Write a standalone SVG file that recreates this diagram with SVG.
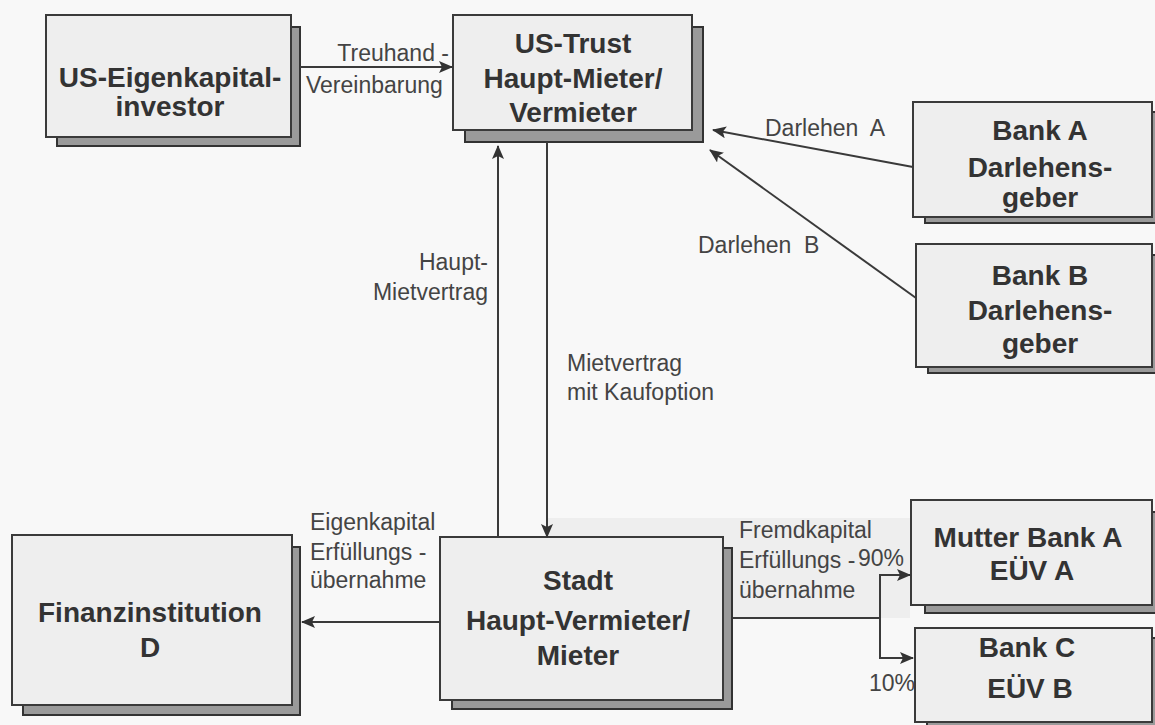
<svg xmlns="http://www.w3.org/2000/svg" width="1155" height="725" viewBox="0 0 1155 725">
<defs>
<marker id="arr" viewBox="0 0 14 12" markerWidth="14" markerHeight="12" refX="13" refY="6" orient="auto" markerUnits="userSpaceOnUse">
<path d="M0,0 L14,6 L0,12 L3,6 Z" fill="#333"/>
</marker>
<style>
.shadow{fill:#9a9a9a;stroke:#333;stroke-width:2}
.box{fill:#eeeeee;stroke:#3a3a3a;stroke-width:2}
.nt{font-family:"Liberation Sans",Arial,sans-serif;font-weight:bold;font-size:28px;fill:#333;text-anchor:middle}
.lb{font-family:"Liberation Sans",Arial,sans-serif;font-size:23px;fill:#444}
.ln{fill:none;stroke:#3a3a3a;stroke-width:2}
</style>
</defs>
<rect width="1155" height="725" fill="#f8f8f8"/>
<rect x="547" y="518" width="363" height="100" fill="#eeeeee"/>

<g id="investor">
<rect class="shadow" x="57" y="27" width="243" height="119"/>
<rect class="box" x="46" y="15" width="245" height="122"/>
<text class="nt" x="170" y="87">US-Eigenkapital-</text>
<text class="nt" x="170" y="116">investor</text>
</g>

<g id="trust">
<rect class="shadow" x="465" y="27" width="238" height="115"/>
<rect class="box" x="453" y="15" width="239" height="115"/>
<text class="nt" x="573" y="53">US-Trust</text>
<text class="nt" x="573" y="88">Haupt-Mieter/</text>
<text class="nt" x="573" y="122">Vermieter</text>
</g>

<g id="bankA">
<rect class="shadow" x="925" y="112" width="240" height="111"/>
<rect class="box" x="913" y="102" width="239" height="115"/>
<text class="nt" x="1040" y="140">Bank A</text>
<text class="nt" x="1040" y="177">Darlehens-</text>
<text class="nt" x="1040" y="207">geber</text>
</g>

<g id="bankB">
<rect class="shadow" x="928" y="255" width="240" height="118"/>
<rect class="box" x="916" y="244" width="236" height="123"/>
<text class="nt" x="1040" y="285">Bank B</text>
<text class="nt" x="1040" y="320">Darlehens-</text>
<text class="nt" x="1040" y="353">geber</text>
</g>

<g id="finanz">
<rect class="shadow" x="23" y="547" width="277" height="168"/>
<rect class="box" x="12" y="535" width="280" height="170"/>
<text class="nt" x="150" y="622">Finanzinstitution</text>
<text class="nt" x="150" y="657">D</text>
</g>

<g id="stadt">
<rect class="shadow" x="452" y="548" width="280" height="161"/>
<rect class="box" x="440" y="537" width="283" height="163"/>
<text class="nt" x="578" y="590" font-size="27">Stadt</text>
<text class="nt" x="578" y="630" font-size="27">Haupt-Vermieter/</text>
<text class="nt" x="578" y="665" font-size="27">Mieter</text>
</g>

<g id="mutterBankA">
<rect class="shadow" x="925" y="512" width="240" height="101"/>
<rect class="box" x="911" y="500" width="241" height="105"/>
<text class="nt" x="1028" y="547">Mutter Bank A</text>
<text class="nt" x="1032" y="580">EÜV A</text>
</g>

<g id="bankC">
<rect class="shadow" x="927" y="638" width="240" height="95"/>
<rect class="box" x="915" y="628" width="237" height="94"/>
<text class="nt" x="1027" y="657">Bank C</text>
<text class="nt" x="1030" y="698">EÜV B</text>
</g>

<g id="connectors">
<line class="ln" x1="300" y1="67" x2="452" y2="67" marker-end="url(#arr)"/>
<line class="ln" x1="913" y1="167" x2="713" y2="130" marker-end="url(#arr)"/>
<line class="ln" x1="916" y1="298" x2="710" y2="150" marker-end="url(#arr)"/>
<line class="ln" x1="498" y1="537" x2="498" y2="146" marker-end="url(#arr)"/>
<line class="ln" x1="547" y1="142" x2="547" y2="537" marker-end="url(#arr)"/>
<line class="ln" x1="440" y1="622" x2="302" y2="622" marker-end="url(#arr)"/>
<path class="ln" d="M733,618 H880 V575 H910" marker-end="url(#arr)"/>
<path class="ln" d="M880,617 V658 H913" marker-end="url(#arr)"/>

<text class="lb" x="449" y="61" text-anchor="end">Treuhand -</text>
<text class="lb" x="306" y="93">Vereinbarung</text>
<text class="lb" x="765" y="136" xml:space="preserve">Darlehen  A</text>
<text class="lb" x="698" y="253" xml:space="preserve">Darlehen  B</text>
<text class="lb" x="488" y="270" text-anchor="end">Haupt-</text>
<text class="lb" x="488" y="300" text-anchor="end">Mietvertrag</text>
<text class="lb" x="567" y="371">Mietvertrag</text>
<text class="lb" x="567" y="400">mit Kaufoption</text>
<text class="lb" x="310" y="530">Eigenkapital</text>
<text class="lb" x="310" y="560">Erfüllungs -</text>
<text class="lb" x="310" y="588">übernahme</text>
<text class="lb" x="739" y="538" font-size="22">Fremdkapital</text>
<text class="lb" x="739" y="568" font-size="22">Erfüllungs -</text>
<text class="lb" x="739" y="598" font-size="22">übernahme</text>
<text class="lb" x="858" y="566" font-size="19">90%</text>
<text class="lb" x="869" y="691" font-size="19">10%</text>
</g>
</svg>
